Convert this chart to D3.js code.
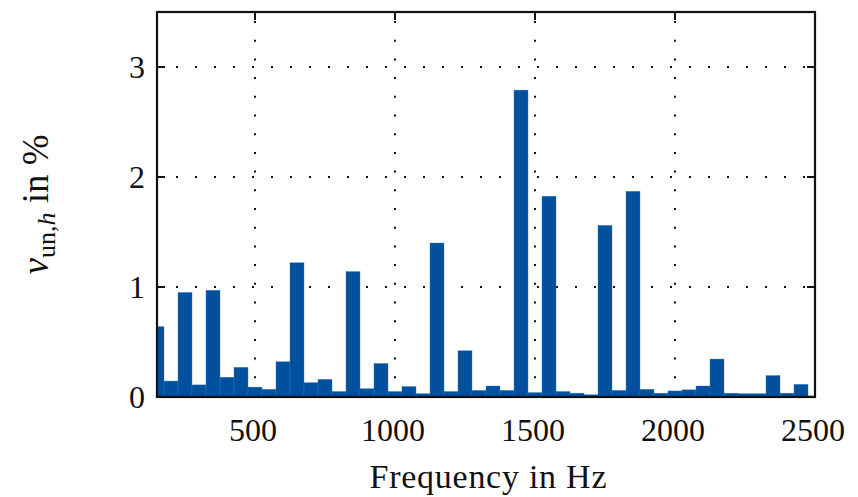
<!DOCTYPE html>
<html>
<head>
  <meta charset="utf-8">
  <title>Harmonic spectrum bar chart</title>
  <style type="text/css">
    body { margin: 0; background: #fff; }
    text { font-family: "Liberation Serif", "Times New Roman", serif; fill: #111; }
  </style>
</head>
<body>
  <svg width="858" height="497"></svg>
  <script src="https://d3js.org/d3.v7.min.js"></script>
  <script>
    // 1. data
    var freqs = [150, 200, 250, 300, 350, 400, 450, 500, 550, 600,
                 650, 700, 750, 800, 850, 900, 950, 1000, 1050, 1100,
                 1150, 1200, 1250, 1300, 1350, 1400, 1450, 1500, 1550, 1600,
                 1650, 1700, 1750, 1800, 1850, 1900, 1950, 2000, 2050, 2100,
                 2150, 2200, 2250, 2300, 2350, 2400, 2450, 2500];
    var values = [0.64, 0.145, 0.95, 0.11, 0.97, 0.18, 0.27, 0.09, 0.07, 0.32,
                  1.22, 0.13, 0.16, 0.05, 1.14, 0.075, 0.305, 0.05, 0.095, 0.03,
                  1.40, 0.05, 0.42, 0.06, 0.10, 0.06, 2.79, 0.04, 1.825, 0.05,
                  0.035, 0.02, 1.56, 0.06, 1.87, 0.07, 0.035, 0.055, 0.065, 0.10,
                  0.345, 0.035, 0.03, 0.03, 0.195, 0.035, 0.115, 0.01];
    var xTicks = [500, 1000, 1500, 2000, 2500];
    var yTicks = [0, 1, 2, 3];
    var barStep = 50;

    // 2. scales
    var svg = d3.select("svg");
    var pLeft = 157, pRight = 815, pTop = 12, pBottom = 397;
    var x = d3.scaleLinear().domain([150, 2500]).range([pLeft, pRight]);
    var y = d3.scaleLinear().domain([0, 3.5]).range([pBottom, pTop]);
    var bw = x(barStep) - x(0);

    svg.append("clipPath").attr("id", "plot")
      .append("rect")
      .attr("x", pLeft).attr("y", pTop)
      .attr("width", pRight - pLeft).attr("height", pBottom - pTop);

    // 3. grid
    var grid = svg.append("g");
    grid.selectAll("line.vx")
      .data(xTicks.filter(function (d) { return d < 2500; }))
      .enter().append("line")
      .attr("x1", function (d) { return x(d); })
      .attr("x2", function (d) { return x(d); })
      .attr("y1", pBottom).attr("y2", pTop)
      .attr("stroke", "#111").attr("stroke-width", 2)
      .attr("stroke-dasharray", "2,16.7");
    grid.selectAll("line.hy")
      .data(yTicks.filter(function (d) { return d > 0; }))
      .enter().append("line")
      .attr("y1", function (d) { return y(d); })
      .attr("y2", function (d) { return y(d); })
      .attr("x1", pLeft).attr("x2", pRight)
      .attr("stroke", "#111").attr("stroke-width", 2)
      .attr("stroke-dasharray", "2,17");

    // 4. bars
    svg.append("g")
      .attr("clip-path", "url(#plot)")
      .selectAll("rect")
      .data(freqs)
      .enter().append("rect")
      .attr("x", function (d) { return x(d) - bw / 2; })
      .attr("width", bw)
      .attr("y", function (d, i) { return y(values[i]); })
      .attr("height", function (d, i) { return y(0) - y(values[i]); })
      .attr("fill", "#0050a0")
      .attr("stroke", "#3a78ba")
      .attr("stroke-width", 0.4);

    // 5. axes: box, inward ticks, labels
    var axis = svg.append("g");
    var tl = 8;
    axis.selectAll("g.yt")
      .data(yTicks)
      .enter().append("g")
      .each(function (d) {
        var g = d3.select(this);
        g.append("line").attr("x1", pLeft).attr("x2", pLeft + tl)
          .attr("y1", y(d)).attr("y2", y(d)).attr("stroke", "#111").attr("stroke-width", 2);
        g.append("line").attr("x1", pRight).attr("x2", pRight - tl)
          .attr("y1", y(d)).attr("y2", y(d)).attr("stroke", "#111").attr("stroke-width", 2);
      });
    axis.selectAll("line.xt")
      .data(xTicks)
      .enter().append("line")
      .attr("x1", function (d) { return x(d); })
      .attr("x2", function (d) { return x(d); })
      .attr("y1", pTop).attr("y2", pTop + tl)
      .attr("stroke", "#111").attr("stroke-width", 2);

    axis.append("rect")
      .attr("x", pLeft).attr("y", pTop)
      .attr("width", pRight - pLeft).attr("height", pBottom - pTop)
      .attr("fill", "none").attr("stroke", "#111").attr("stroke-width", 2.2);

    axis.selectAll("text.yl")
      .data(yTicks)
      .enter().append("text")
      .attr("x", 145)
      .attr("y", function (d) { return y(d) + 11; })
      .attr("text-anchor", "end")
      .attr("font-size", 32)
      .text(function (d) { return d; });

    axis.selectAll("text.xl")
      .data(xTicks)
      .enter().append("text")
      .attr("x", function (d) { return x(d) - 2; })
      .attr("y", 441)
      .attr("text-anchor", "middle")
      .attr("font-size", 32)
      .text(function (d) { return d; });

    svg.append("text")
      .attr("x", (pLeft + pRight) / 2 + 2)
      .attr("y", 488)
      .attr("text-anchor", "middle")
      .attr("font-size", 34)
      .attr("textLength", 237)
      .attr("lengthAdjust", "spacing")
      .text("Frequency in Hz");

    var yl = svg.append("text")
      .attr("transform", "translate(48," + ((pTop + pBottom) / 2) + ") rotate(-90)")
      .attr("text-anchor", "middle")
      .attr("font-size", 37);
    yl.append("tspan").attr("font-style", "italic").text("v");
    yl.append("tspan").attr("font-size", 26).attr("dy", 7).text("un,");
    yl.append("tspan").attr("font-size", 26).attr("font-style", "italic").text("h");
    yl.append("tspan").attr("dy", -7).text(" in %");
  </script>
</body>
</html>
